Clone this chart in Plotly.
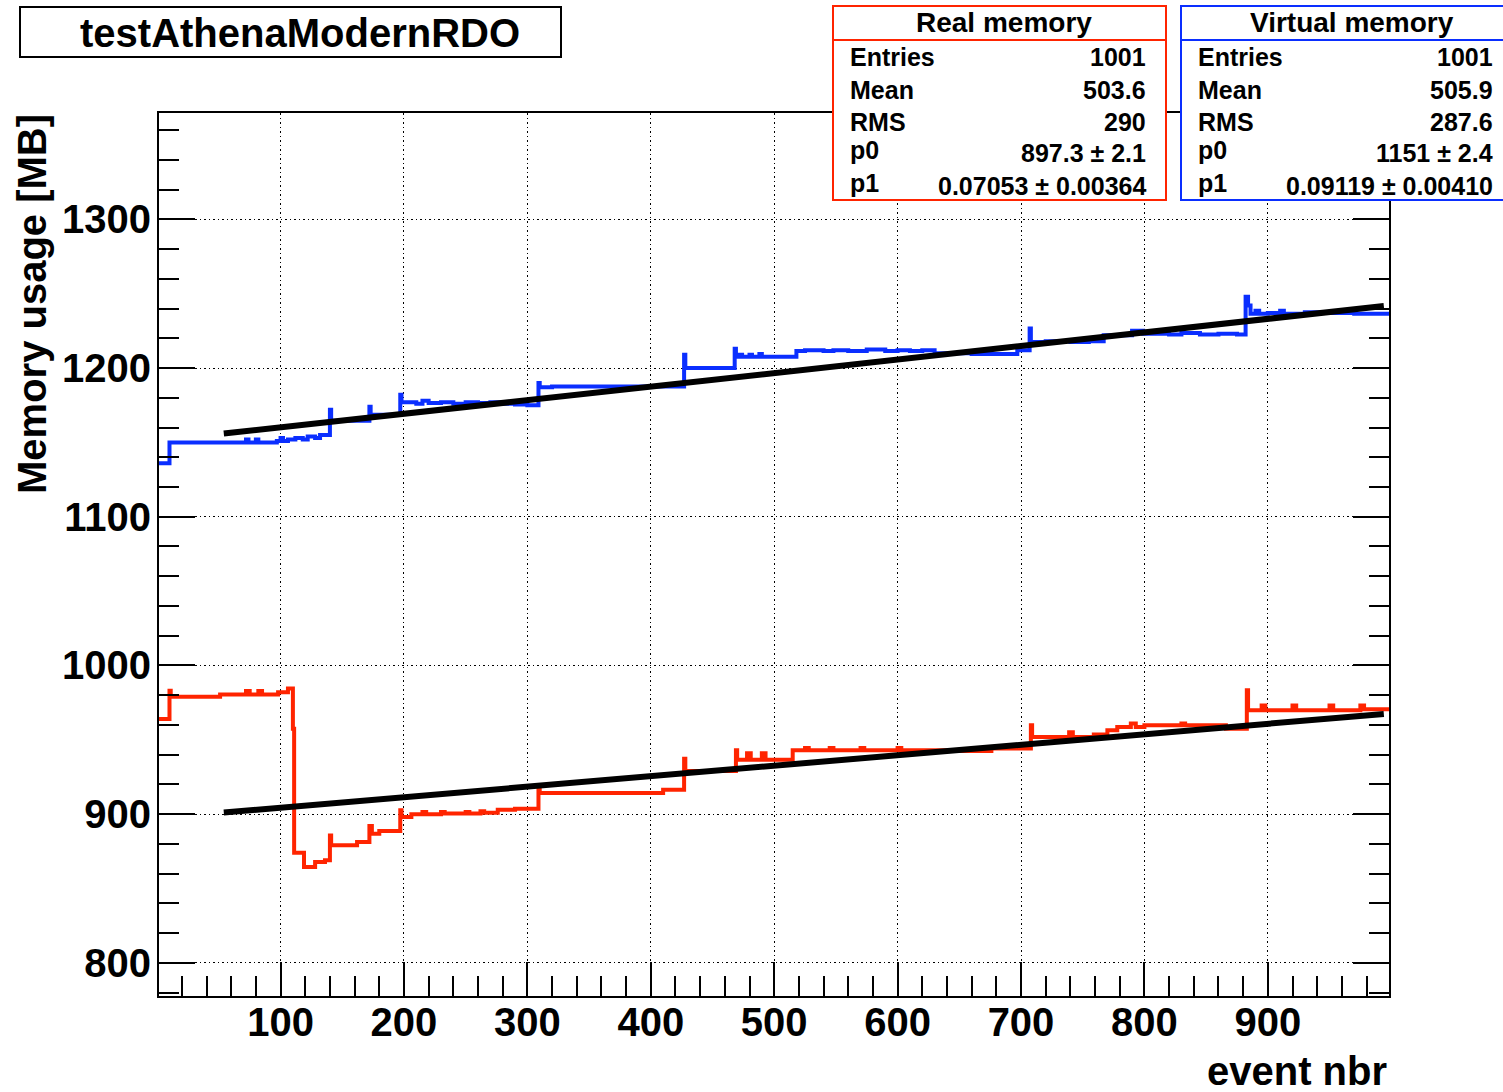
import plotly.graph_objects as go

# ---------------- data ----------------
blue_evt = [1, 10, 72, 74, 80, 82, 97, 100, 102, 106,
            112, 118, 122, 128, 132, 140, 141, 160, 172, 173,
            185, 197, 198, 205, 210, 215, 220, 230, 240, 250,
            260, 270, 280, 290, 300, 309, 310, 320, 427, 428,
            468, 469, 472, 474, 480, 482, 488, 490, 518, 525,
            540, 548, 560, 575, 590, 600, 610, 620, 630, 660,
            697, 707, 708, 720, 740, 755, 767, 790, 799, 820,
            830, 845, 860, 875, 882, 884, 886, 890, 893, 900,
            910, 913, 930, 950, 970, 985, 1001]
blue_mem = [1136, 1150, 1152, 1150, 1152, 1150, 1151, 1153, 1151, 1152,
            1153, 1152, 1154, 1153, 1155, 1172, 1164.5, 1164.5, 1174, 1168.5,
            1168.5, 1182, 1177, 1177, 1176, 1178, 1176.5, 1177, 1176, 1177,
            1176.5, 1177, 1176, 1175.5, 1175, 1190, 1187, 1187.5, 1209, 1200,
            1213, 1207.5, 1209, 1207.5, 1209, 1207.5, 1209.5, 1207.5, 1211.5, 1212,
            1211.5, 1212, 1211.5, 1212.5, 1211.5, 1212, 1211.5, 1212, 1210, 1209.5,
            1212, 1226.5, 1217.5, 1218, 1217.5, 1218, 1222, 1225, 1223, 1222.5,
            1223.5, 1222.5, 1223, 1222.5, 1248, 1242, 1236.5, 1238.5, 1236.5, 1237,
            1238.5, 1236.5, 1237.5, 1237, 1236.5, 1236.5, 1236.5]

red_evt = [1, 10, 11, 51, 72, 75, 82, 85, 98, 106,
           110, 111, 119, 128, 136, 140, 141, 162, 172, 174,
           180, 197, 198, 206, 215, 218, 230, 233, 250, 253,
           262, 265, 276, 290, 309, 310, 410, 427, 428, 469,
           470, 478, 481, 490, 493, 515, 525, 528, 545, 548,
           570, 573, 600, 603, 640, 676, 708, 709, 739, 742,
           759, 770, 778, 789, 793, 800, 830, 833, 866, 883,
           884, 895, 898, 920, 923, 950, 953, 975, 978, 1001]
red_mem = [964, 983, 979, 980.5, 982.8, 980.5, 982.8, 980.5, 982, 984.5,
           957.5, 874, 864.4, 867.8, 869, 885.7, 879, 881.3, 892, 886.8,
           888.6, 902.6, 898.1, 900, 901.5, 900, 901.5, 900.5, 901.5, 900.5,
           902, 901, 903, 903.7, 917.2, 914.2, 916.4, 937.3, 929, 942.9,
           936.6, 941, 936.6, 941, 936.6, 942.9, 944.5, 942.9, 944.5, 942.9,
           944.5, 942.9, 944.5, 942.9, 942.5, 944.1, 959.8, 951.9, 955, 951.9,
           953.6, 956.4, 958.6, 961, 958.6, 959.7, 961, 959.7, 957.4, 983.3,
           969.8, 973, 969.8, 973, 969.8, 973, 969.8, 973, 970.5, 970.5]

# linear fit results (pol1) and fit range
real_p0, real_p1 = 897.3, 0.07053
virt_p0, virt_p1 = 1151.0, 0.09119
fit_range = [54, 994]

real_stats = [("Entries", "1001"), ("Mean", "503.6"), ("RMS", "290"),
              ("p0", "897.3 \u00b1 2.1"), ("p1", "0.07053 \u00b1 0.00364")]
virt_stats = [("Entries", "1001"), ("Mean", "505.9"), ("RMS", "287.6"),
              ("p0", "1151 \u00b1 2.4"), ("p1", "0.09119 \u00b1 0.00410")]

title_text = "testAthenaModernRDO"
x_title = "event nbr"
y_title = "Memory usage [MB]"

# ---------------- styling ----------------
FONT = "Liberation Sans, Arial, Helvetica, sans-serif"
RED = "#ff2400"
BLUE = "#0a2eff"
W, H = 1503, 1092
ML, MR, MT, MB = 159, 114, 113, 96
PW, PH = W - ML - MR, H - MT - MB


def fx(px):
    return (px - ML) / PW


def fy(py):
    return (H - MB - py) / PH


fig = go.Figure()
fig.add_trace(go.Scatter(x=blue_evt, y=blue_mem, mode="lines", line_shape="hv",
                         line=dict(color=BLUE, width=4), name="Virtual memory"))
fig.add_trace(go.Scatter(x=red_evt, y=red_mem, mode="lines", line_shape="hv",
                         line=dict(color=RED, width=4), name="Real memory"))
for p0, p1 in [(virt_p0, virt_p1), (real_p0, real_p1)]:
    fig.add_trace(go.Scatter(x=fit_range, y=[p0 + p1 * v for v in fit_range],
                             mode="lines", line=dict(color="black", width=6)))

axis_common = dict(
    ticks="inside", tickcolor="black", tickwidth=1.5,
    showgrid=True, gridcolor="black", gridwidth=1.3, griddash="1.5px,3px",
    showline=True, linecolor="black", linewidth=2,
    zeroline=False,
    tickfont=dict(family=FONT, size=40, color="black", weight="bold"),
)

fig.update_xaxes(range=[1.5, 998.2], tick0=0, dtick=100, ticklen=34, mirror=True,
                 ticklabelstandoff=-10,
                 minor=dict(dtick=20, tick0=0, ticklen=20, ticks="inside",
                            tickcolor="black", tickwidth=1.5, showgrid=False),
                 **axis_common)
fig.update_yaxes(range=[777.7, 1371.5], tick0=0, dtick=100, ticklen=36, mirror="ticks",
                 ticklabelstandoff=-2,
                 minor=dict(dtick=20, tick0=0, ticklen=20, ticks="inside",
                            tickcolor="black", tickwidth=1.5, showgrid=False),
                 **axis_common)

shapes = []
annotations = []

# title box
shapes.append(dict(type="rect", xref="paper", yref="paper",
                   x0=fx(20), x1=fx(561), y0=fy(57), y1=fy(7),
                   line=dict(color="black", width=2), fillcolor="white"))
annotations.append(dict(xref="paper", yref="paper", x=fx(300), y=fy(33),
                        text=title_text, showarrow=False, xanchor="center", yanchor="middle",
                        font=dict(family=FONT, size=40, color="black", weight="bold")))


# stats boxes
def stats_box(x0, x1, head_cx, col, header, rows, label_x, value_x):
    shapes.append(dict(type="rect", xref="paper", yref="paper",
                       x0=fx(x0), x1=fx(x1), y0=fy(200), y1=fy(6),
                       line=dict(color=col, width=2), fillcolor="white"))
    shapes.append(dict(type="line", xref="paper", yref="paper",
                       x0=fx(x0), x1=fx(x1), y0=fy(40), y1=fy(40),
                       line=dict(color=col, width=2)))
    annotations.append(dict(xref="paper", yref="paper", x=fx(head_cx),
                            y=fy(23), text=header, showarrow=False,
                            xanchor="center", yanchor="middle",
                            font=dict(family=FONT, size=28, color="black", weight="bold")))
    for (lab, val), py in zip(rows, [57, 90, 122, 153, 186]):
        lab_py = py - 3 if lab.startswith("p") else py
        annotations.append(dict(xref="paper", yref="paper", x=fx(label_x), y=fy(lab_py),
                                text=lab, showarrow=False, xanchor="left", yanchor="middle",
                                font=dict(family=FONT, size=25, color="black", weight="bold")))
        annotations.append(dict(xref="paper", yref="paper", x=fx(value_x), y=fy(py),
                                text=val, showarrow=False, xanchor="right", yanchor="middle",
                                font=dict(family=FONT, size=25, color="black", weight="bold")))


stats_box(833, 1166, 1004, RED, "Real memory", real_stats, 848, 1148)
stats_box(1181, 1515, 1352, BLUE, "Virtual memory", virt_stats, 1196, 1495)

# axis titles
annotations.append(dict(xref="paper", yref="paper", x=fx(32), y=fy(112),
                        text=y_title, textangle=-90, showarrow=False,
                        xanchor="center", yanchor="top",
                        font=dict(family=FONT, size=40, color="black", weight="bold")))
annotations.append(dict(xref="paper", yref="paper", x=fx(1389), y=fy(1071),
                        text=x_title, showarrow=False,
                        xanchor="right", yanchor="middle",
                        font=dict(family=FONT, size=40, color="black", weight="bold")))

fig.update_layout(
    width=W, height=H,
    margin=dict(l=ML, r=MR, t=MT, b=MB, pad=0),
    paper_bgcolor="white", plot_bgcolor="white",
    showlegend=False,
    shapes=shapes, annotations=annotations,
    font=dict(family=FONT, color="black"),
)

fig.write_html("out.html", config={"displayModeBar": False},
               post_script="document.body.style.margin='0';document.body.style.overflow='hidden';")
